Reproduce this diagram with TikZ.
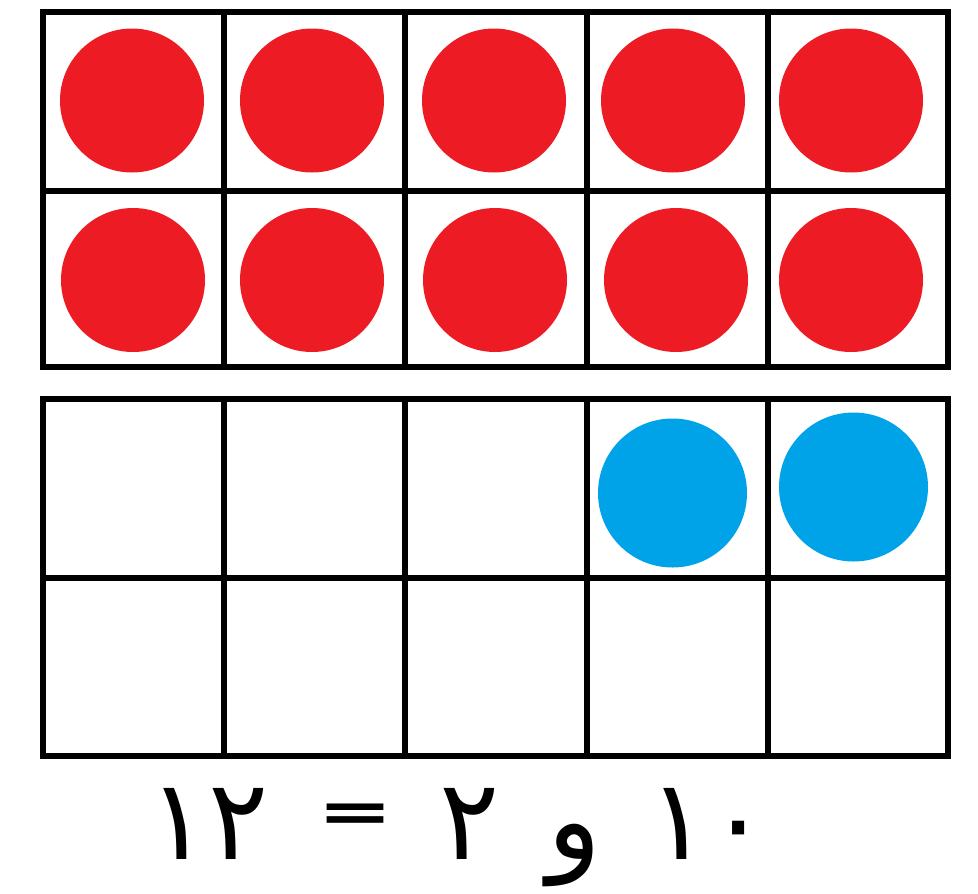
\documentclass[tikz,border=0pt]{standalone}
\usepackage{graphicx}
\usepackage{fontspec}
\newfontfamily\arabicfont[Script=Arabic]{DejaVu Sans}
\newfontfamily\eqfont{DejaVu Sans Bold}
\TeXXeTstate=1
\definecolor{dotred}{HTML}{ED1C24}
\definecolor{dotblue}{HTML}{00A2E8}
\begin{document}
\begin{tikzpicture}[x=0.75pt,y=-0.75pt,
  gridline/.style={line width=3.8pt,black,line cap=rect},
  reddot/.style={fill=dotred},
  bluedot/.style={fill=dotblue},
  numtext/.style={font=\arabicfont\fontsize{84}{94}\selectfont,inner sep=0pt,anchor=base}]
\useasboundingbox (0,0) rectangle (978,893);
% top ten-frame
\draw[gridline] (43,12) rectangle (948,367);
\draw[gridline] (43,191) -- (948,191);
\foreach \x in {224,405,587,768} \draw[gridline] (\x,12) -- (\x,367);
% bottom ten-frame
\draw[gridline] (43,399) rectangle (948,756);
\draw[gridline] (43,578) -- (948,578);
\foreach \x in {224,405,587,768} \draw[gridline] (\x,399) -- (\x,756);
% red counters
\foreach \x in {132,312,494,673,851} \fill[reddot] (\x,100.5) circle[radius=72];
\foreach \x/\y in {133/280,312/280,495/280,676/280,851/280} \fill[reddot] (\x,\y) circle[radius=72];
% blue counters
\fill[bluedot] (672.5,493) circle[radius=74.5];
\fill[bluedot] (853.5,487) circle[radius=74.5];
% equation
\node[numtext] (twelve) at (209,859) {١٢};
\node[font=\eqfont\fontsize{68}{76}\selectfont,inner sep=0pt] (eq) at (355,817.5) {\scalebox{1}[0.63]{=}};
\node[numtext] (two) at (470,859) {٢};
\node[numtext] (waw) at (575,859) {\beginR و\endR};
\node[numtext] (ten) at (709,859) {١٠};
\end{tikzpicture}
\end{document}
